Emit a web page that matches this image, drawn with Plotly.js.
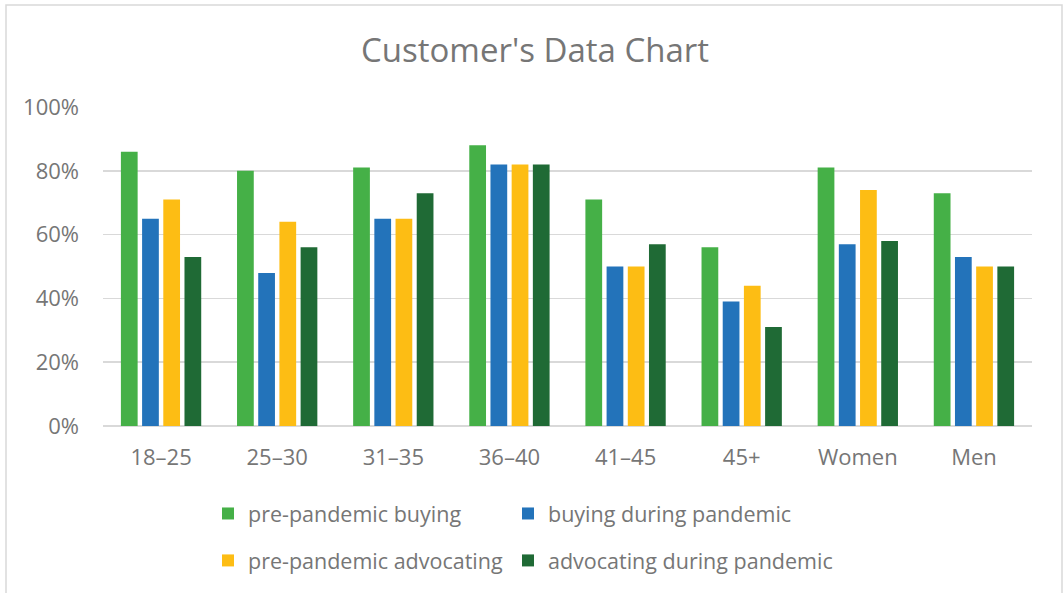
<!DOCTYPE html>
<html>
<head>
<meta charset="utf-8">
<script src="https://cdn.plot.ly/plotly-3.0.1.min.js"></script>
<style>html,body{margin:0;padding:0;background:#fff;}#chart{width:1064px;height:593px;}</style>
</head>
<body>
<div id="chart"></div>
<script>
const categories = ["18–25", "25–30", "31–35", "36–40", "41–45", "45+", "Women", "Men"];
const prePandemicBuying = [86, 80, 81, 88, 71, 56, 81, 73];
const buyingDuringPandemic = [65, 48, 65, 82, 50, 39, 57, 53];
const prePandemicAdvocating = [71, 64, 65, 82, 50, 44, 74, 50];
const advocatingDuringPandemic = [53, 56, 73, 82, 57, 31, 58, 50];
const seriesNames = ["pre-pandemic buying", "buying during pandemic", "pre-pandemic advocating", "advocating during pandemic"];
const yTickVals = [0, 20, 40, 60, 80, 100];

const colors = ["#45B047", "#2373BA", "#FDBD14", "#1F6A35"];
const font = "'Open Sans', 'Noto Sans', sans-serif";
const gray = "#767676";

const seriesData = [prePandemicBuying, buyingDuringPandemic, prePandemicAdvocating, advocatingDuringPandemic];
const legends = ["legend", "legend2", "legend", "legend2"];
const traces = seriesData.map((vals, i) => ({
  type: "bar",
  name: seriesNames[i],
  x: categories,
  y: vals,
  marker: {color: colors[i], line: {width: 0}},
  legend: legends[i],
  legendgroup: "g" + i,
  hoverinfo: "x+y+name"
}));

const W = 1064, H = 593;
const L = 103, R = 32, T = 107, B = 167;
const pw = W - L - R, ph = H - T - B;
const px = v => (v - L) / pw;
const py = v => (H - B - v) / ph;

const legendCommon = {
  orientation: "v",
  xanchor: "left",
  yanchor: "middle",
  tracegroupgap: 16,
  font: {family: font, size: 21.5, color: gray},
  bgcolor: "rgba(0,0,0,0)",
  itemclick: false,
  itemdoubleclick: false
};

const layout = {
  width: W, height: H,
  margin: {l: L, r: R, t: T, b: B},
  paper_bgcolor: "#ffffff",
  plot_bgcolor: "#ffffff",
  font: {family: font, color: gray},
  title: {
    text: "Customer's Data Chart",
    font: {family: font, size: 33, color: gray},
    x: 535 / W, xref: "container", xanchor: "center",
    y: 1 - 50 / H, yref: "container", yanchor: "middle"
  },
  barmode: "group",
  bargap: 0.27,
  bargroupgap: 0.21,
  xaxis: {
    type: "category",
    tickfont: {family: font, size: 22, color: gray},
    showgrid: false,
    showline: false,
    ticks: "",
    ticklabelstandoff: 16,
    fixedrange: true
  },
  yaxis: {
    range: [0, 100],
    tickvals: yTickVals,
    ticktext: yTickVals.map(v => v + "%"),
    tickfont: {family: font, size: 22, color: gray},
    showgrid: true,
    gridcolor: "#d9d9d9",
    gridwidth: 1.5,
    zeroline: true,
    zerolinecolor: "#d9d9d9",
    zerolinewidth: 1.5,
    showline: false,
    ticks: "",
    ticklabelstandoff: 23,
    fixedrange: true
  },
  legend: Object.assign({}, legendCommon, {x: px(208), y: py(537)}),
  legend2: Object.assign({}, legendCommon, {x: px(508), y: py(537)}),
  shapes: [{
    type: "rect", xref: "paper", yref: "paper",
    x0: px(6), x1: px(1062), y0: py(5), y1: py(620),
    line: {color: "#d9d9d9", width: 1.5},
    fillcolor: "rgba(0,0,0,0)",
    layer: "below"
  }]
};

Plotly.newPlot("chart", traces, layout, {displayModeBar: false, staticPlot: true});
</script>
</body>
</html>
